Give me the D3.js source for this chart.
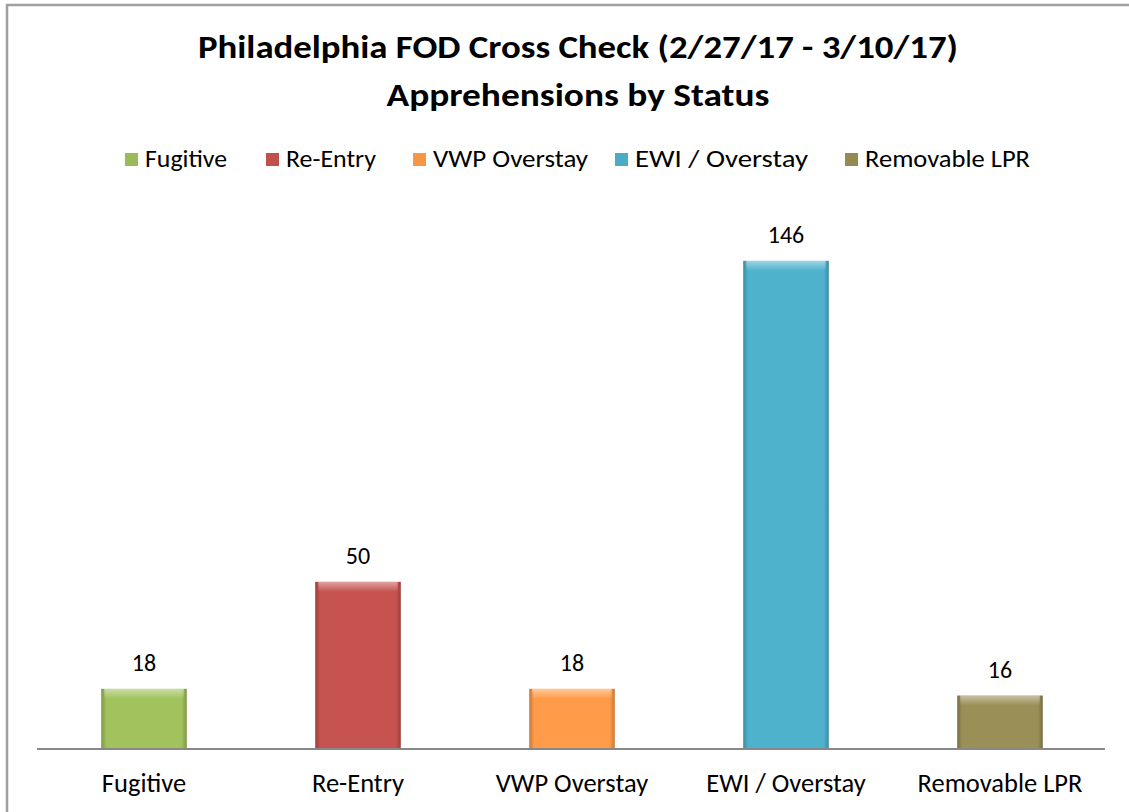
<!DOCTYPE html>
<html><head><meta charset="utf-8">
<script src="https://cdn.jsdelivr.net/npm/d3@7"></script>
<style>body{margin:0;background:#fff}svg{display:block}</style>
</head><body>
<script>
const titleLines = ["Philadelphia FOD Cross Check (2/27/17 - 3/10/17)", "Apprehensions by Status"];
const categories = ["Fugitive", "Re-Entry", "VWP Overstay", "EWI / Overstay", "Removable LPR"];
const values = [18, 50, 18, 146, 16];
const colors = ["#9bbb59", "#c0504d", "#f79646", "#4bacc6", "#948a54"];

const W = 1129, H = 812;
const font = "Carlito, 'Open Sans', 'Liberation Sans', sans-serif";
const svg = d3.select("body").append("svg").attr("width", W).attr("height", H);

// frame
svg.append("rect").attr("x", 7).attr("y", 5).attr("width", 1130).attr("height", 820)
  .attr("fill", "#fff").attr("stroke", "#a0a0a0").attr("stroke-width", 2.5);

const x = d3.scaleBand().domain(categories).range([37, 1107]).paddingInner(0.6).paddingOuter(0.3);
const y = d3.scaleLinear().domain([0, 160]).range([749, 214]);

const defs = svg.append("defs");
colors.forEach((c, i) => {
  const g = defs.append("linearGradient").attr("id", "hg" + i).attr("x1", 0).attr("x2", 1).attr("y1", 0).attr("y2", 0);
  const dk = d3.color(c).darker(0.6), lt = d3.color(c).brighter(0.1);
  g.append("stop").attr("offset", 0).attr("stop-color", dk);
  g.append("stop").attr("offset", 0.06).attr("stop-color", lt);
  g.append("stop").attr("offset", 0.94).attr("stop-color", lt);
  g.append("stop").attr("offset", 1).attr("stop-color", dk);
});
const tg = defs.append("linearGradient").attr("id", "topHi").attr("x1", 0).attr("x2", 0).attr("y1", 0).attr("y2", 1);
tg.append("stop").attr("offset", 0).attr("stop-color", "#fff").attr("stop-opacity", 0.45);
tg.append("stop").attr("offset", 1).attr("stop-color", "#fff").attr("stop-opacity", 0);

// title
svg.append("g").selectAll("text").data(titleLines).join("text")
  .attr("x", 578).attr("y", (d, i) => 58 + i * 48)
  .attr("text-anchor", "middle").attr("font-family", font).attr("font-weight", "bold")
  .attr("font-size", 33).attr("fill", "#000")
  .attr("textLength", (d, i) => i === 0 ? 760 : 383).attr("lengthAdjust", "spacingAndGlyphs")
  .text(d => d);

// legend
const legX = [125, 266, 413, 615, 845];
const legW = [82, 90, 155, 173, 165];
const leg = svg.append("g").selectAll("g").data(categories).join("g")
  .attr("transform", (d, i) => `translate(${legX[i]},167)`);
leg.append("rect").attr("x", 0).attr("y", -14).attr("width", 13).attr("height", 13)
  .attr("fill", (d, i) => colors[i]);
leg.append("text").attr("x", 20).attr("y", 0).attr("font-family", font).attr("font-size", 24)
  .attr("textLength", (d, i) => legW[i]).attr("lengthAdjust", "spacingAndGlyphs")
  .attr("fill", "#000").text(d => d);

// bars
const bars = svg.append("g").selectAll("g").data(categories).join("g");
bars.append("rect")
  .attr("x", d => x(d)).attr("width", x.bandwidth())
  .attr("y", (d, i) => y(values[i])).attr("height", (d, i) => y(0) - y(values[i]))
  .attr("fill", (d, i) => `url(#hg${i})`);
bars.append("rect")
  .attr("x", d => x(d) + 3).attr("width", x.bandwidth() - 6)
  .attr("y", (d, i) => y(values[i])).attr("height", 10)
  .attr("fill", "url(#topHi)");

// value labels
svg.append("g").selectAll("text").data(categories).join("text")
  .attr("x", d => x(d) + x.bandwidth() / 2).attr("y", (d, i) => y(values[i]) - 18)
  .attr("text-anchor", "middle").attr("font-family", font).attr("font-size", 24).attr("fill", "#000")
  .text((d, i) => values[i]);

// axis
const axis = svg.append("g").attr("transform", `translate(0,${y(0)})`)
  .call(d3.axisBottom(x).tickSize(0).tickPadding(0));
axis.select(".domain").attr("stroke", "#888").attr("stroke-width", 2).attr("d", "M37,0H1105");
axis.selectAll("text").attr("font-family", font).attr("font-size", 26.5).attr("fill", "#000")
  .attr("dy", null).attr("y", 43);
</script>
</body></html>
